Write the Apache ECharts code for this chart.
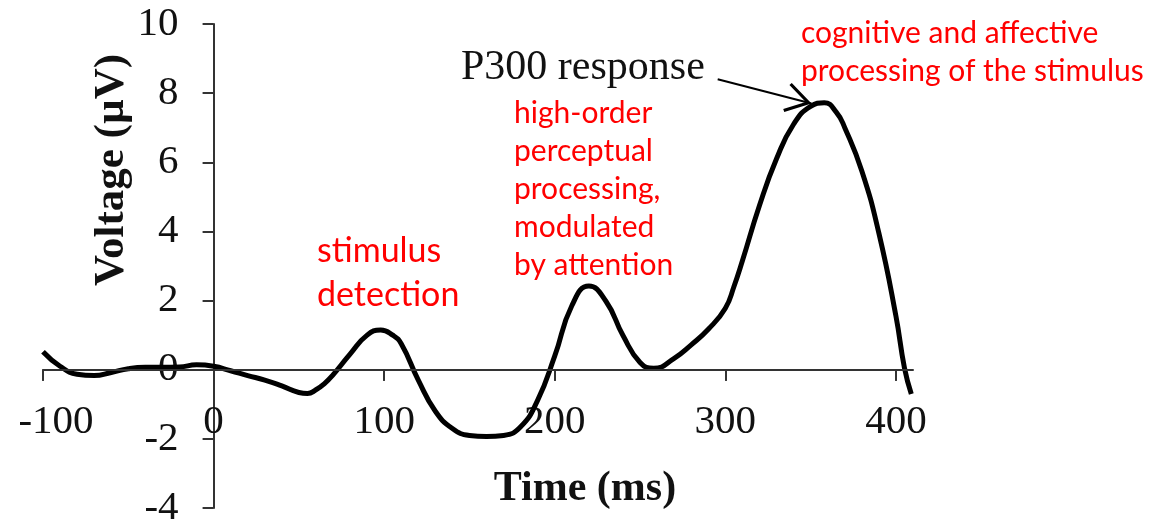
<!DOCTYPE html>
<html>
<head>
<meta charset="utf-8">
<script src="https://cdn.jsdelivr.net/npm/echarts@6/dist/echarts.min.js"></script>
<style>
html,body{margin:0;padding:0;background:#fff;}
#chart{width:1157px;height:530px;}
</style>
</head>
<body>
<div id="chart"></div>
<script>
// Time (ms) samples of the ERP waveform
const timeMs = [-100, -90, -80, -70, -60, -50, -40, -30, -20, -10, 0, 10, 20, 30, 40, 50, 55, 60, 65, 70, 80, 90, 98, 105, 110, 120, 130, 140, 150, 160, 170, 180, 190, 200, 210, 220, 230, 240, 250, 258, 270, 280, 290, 300, 305, 310, 320, 330, 340, 350, 358, 365, 370, 380, 390, 400, 405, 409];
// Voltage (µV) at each sample
const voltage = [0.52, 0.1, -0.13, -0.17, -0.08, 0.03, 0.07, 0.07, 0.08, 0.14, 0.1, -0.03, -0.17, -0.3, -0.47, -0.66, -0.69, -0.58, -0.4, -0.15, 0.45, 1.0, 1.15, 1.0, 0.75, -0.3, -1.2, -1.7, -1.9, -1.93, -1.9, -1.65, -0.88, 0.4, 1.85, 2.42, 1.98, 0.99, 0.21, 0.04, 0.33, 0.72, 1.17, 1.78, 2.4, 3.15, 4.75, 6.1, 7.1, 7.62, 7.72, 7.45, 7.0, 5.75, 3.95, 1.55, 0.05, -0.7];
// Axis tick values
const xTicks = [-100, 0, 100, 200, 300, 400];
const yTicks = [-4, -2, 0, 2, 4, 6, 8, 10];
// Annotation texts
const axisNameY = 'Voltage (µV)';
const axisNameX = 'Time (ms)';
const p300Label = 'P300 response';
const noteDetection = ['stimulus', 'detection'];
const notePerceptual = ['high-order', 'perceptual', 'processing,', 'modulated', 'by attention'];
const noteCognitive = ['cognitive and affective', 'processing of the stimulus'];
// Arrow from the P300 label to the peak (data coordinates)
const arrowFrom = [295.5, 8.40];
const arrowTo = [350.5, 7.70];

const X_MIN = -100, X_MAX = 410, Y_MIN = -4, Y_MAX = 10;
const GRID = {left: 43, right: 244, top: 24, bottom: 22};
const W = 1157, H = 530;
const plotW = W - GRID.left - GRID.right;
const plotH = H - GRID.top - GRID.bottom;
// shift label axes so they sit beside the axes crossing at the origin
const yAxisShift = -(0 - X_MIN) / (X_MAX - X_MIN) * plotW;
const xAxisShift = -(0 - Y_MIN) / (Y_MAX - Y_MIN) * plotH;
// x tick mark length expressed in y units (11 px)
const xTickLen = 11 / plotH * (Y_MAX - Y_MIN);

const points = timeMs.map((t, i) => [t, voltage[i]]);
const serif = '"Liberation Serif", "Times New Roman", serif';
const sans = 'Lato, "Open Sans", sans-serif';
const axisColor = '#333';
const axisLineStyle = {color: axisColor, width: 2, type: 'solid'};

const markData = [
  // zero line (x axis)
  [{coord: [X_MIN, 0], lineStyle: axisLineStyle}, {coord: [X_MAX, 0]}],
  // x tick marks below the zero line
  ...xTicks.map(t => [{coord: [t, 0], lineStyle: axisLineStyle}, {coord: [t, -xTickLen]}]),
  // arrow from the P300 label to the peak
  [{coord: arrowFrom, lineStyle: {color: '#000', width: 2, type: 'solid'}},
   {coord: arrowTo, symbol: 'path://M14,0 L28,22 L25.6,23.6 L14,5.4 L2.4,23.6 L0,22 Z', symbolSize: [30, 26], symbolOffset: [0, 13]}]
];

const chart = echarts.init(document.getElementById('chart'), null, {renderer: 'canvas'});
chart.setOption({
  animation: false,
  backgroundColor: '#ffffff',
  grid: Object.assign({containLabel: false, outerBoundsMode: 'none'}, GRID),
  xAxis: [{
    type: 'value', min: X_MIN, max: X_MAX, interval: 100,
    axisLine: {show: true, onZero: true, lineStyle: {color: axisColor, width: 2}},
    axisTick: {show: true, length: 11, inside: false, customValues: xTicks, lineStyle: {color: axisColor, width: 2}},
    axisLabel: {show: false},
    splitLine: {show: false}
  }, {
    // tick labels under the zero line
    type: 'value', min: X_MIN, max: X_MAX, interval: 100, position: 'bottom', offset: xAxisShift,
    axisLine: {show: false, onZero: false},
    axisTick: {show: false},
    axisLabel: {
      customValues: xTicks, margin: 32, color: '#111', fontFamily: serif, fontSize: 41,
      formatter: v => (v === X_MIN ? '{m|' + v + '}' : String(v)),
      rich: {m: {fontFamily: serif, fontSize: 41, color: '#111', padding: [0, 0, 0, 26]}}
    },
    splitLine: {show: false}
  }],
  yAxis: [{
    type: 'value', min: Y_MIN, max: Y_MAX, interval: 2,
    axisLine: {show: true, onZero: true, lineStyle: {color: axisColor, width: 2}},
    axisTick: {show: true, length: 11, customValues: yTicks, lineStyle: {color: axisColor, width: 2}},
    axisLabel: {show: false},
    splitLine: {show: false}
  }, {
    // tick labels beside the zero line
    type: 'value', min: Y_MIN, max: Y_MAX, interval: 2, position: 'left', offset: yAxisShift,
    axisLine: {show: false, onZero: false},
    axisTick: {show: false},
    axisLabel: {customValues: yTicks, margin: 35, color: '#111', fontFamily: serif, fontSize: 41},
    splitLine: {show: false}
  }],
  series: [{
    type: 'line',
    xAxisIndex: 0,
    yAxisIndex: 0,
    data: points,
    smooth: 0.5,
    showSymbol: false,
    lineStyle: {color: '#000', width: 5},
    z: 3,
    markLine: {
      silent: true,
      symbol: ['none', 'none'],
      label: {show: false},
      lineStyle: axisLineStyle,
      data: markData
    }
  }],
  graphic: [
    {type: 'text', x: 112, y: 170, rotation: Math.PI / 2,
      style: {text: axisNameY, font: 'bold 43px ' + serif, fill: '#111', align: 'center', verticalAlign: 'middle'}},
    {type: 'text', x: 585, y: 489,
      style: {text: axisNameX, font: 'bold 42px ' + serif, fill: '#111', align: 'center', verticalAlign: 'middle'}},
    {type: 'text', x: 461, y: 68,
      style: {text: p300Label, font: '42px ' + serif, fill: '#111', align: 'left', verticalAlign: 'middle'}},
    {type: 'text', x: 317, y: 229,
      style: {text: noteDetection.join('\n'), font: '34px ' + sans, lineHeight: 44, fill: '#ff0000', align: 'left', verticalAlign: 'top'}},
    {type: 'text', x: 514, y: 94,
      style: {text: notePerceptual.join('\n'), font: '30px ' + sans, lineHeight: 38, fill: '#ff0000', align: 'left', verticalAlign: 'top'}},
    {type: 'text', x: 801, y: 14,
      style: {text: noteCognitive.join('\n'), font: '30px ' + sans, lineHeight: 38, fill: '#ff0000', align: 'left', verticalAlign: 'top'}}
  ]
});
</script>
</body>
</html>
